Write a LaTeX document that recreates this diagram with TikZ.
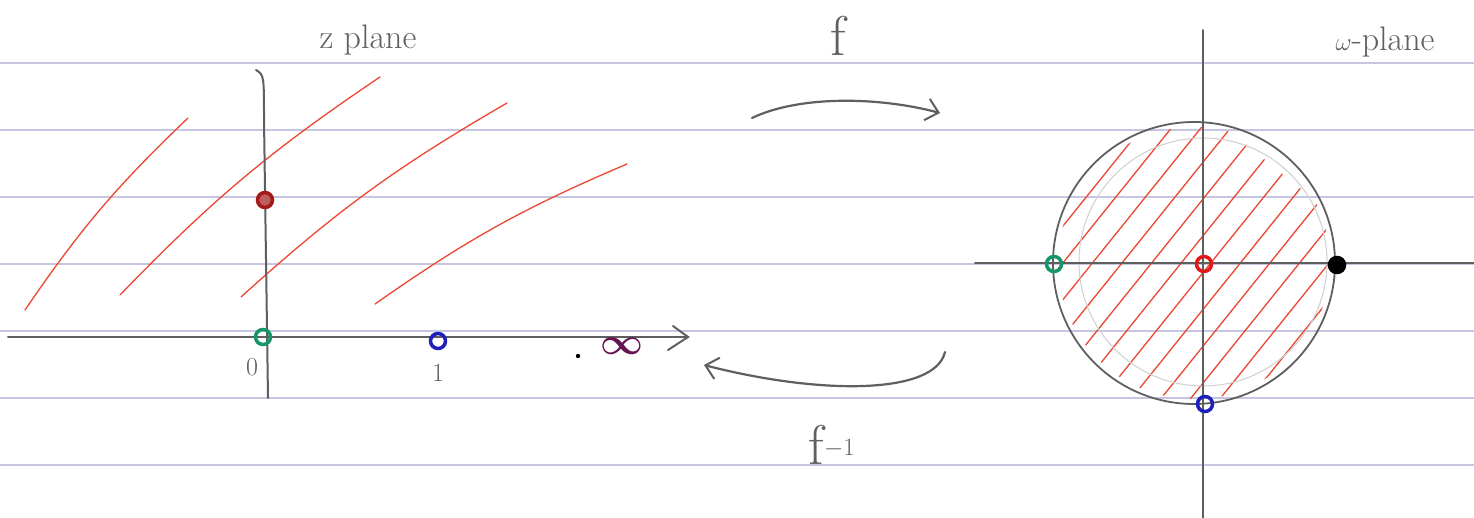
\documentclass[tikz,border=0pt]{standalone}
\usetikzlibrary{arrows.meta,calc}
\definecolor{rule}{RGB}{198,198,224}
\definecolor{pencil}{RGB}{95,95,95}
\definecolor{hatch}{RGB}{238,70,50}
\definecolor{zgreen}{RGB}{20,150,105}
\definecolor{zblue}{RGB}{30,30,185}
\definecolor{zred}{RGB}{165,25,25}
\definecolor{wred}{RGB}{225,25,25}
\definecolor{infcol}{RGB}{100,20,80}
\begin{document}
\begin{tikzpicture}[x=1pt,y=-1pt,
  ruleline/.style={rule,line width=1.2pt},
  axis/.style={pencil,line width=2pt,line cap=round},
  hatchline/.style={hatch,line width=1.3pt,line cap=round},
  pt/.style={circle,draw=#1,line width=3.5pt,minimum size=15pt,inner sep=0pt},
  handtext/.style={text=pencil,inner sep=0pt},
  maparrow/.style={pencil,line width=2.2pt,line cap=round,-{Straight Barb[length=12pt,width=22pt,line width=2pt]}}
]
\useasboundingbox (0,0) rectangle (1474,518);
\fill[white] (0,0) rectangle (1474,518);
% ruled paper
\foreach \yy in {63,130,197,264,331,398,465}
  \draw[ruleline] (0,\yy) -- (1474,\yy);

% ---------- z-plane ----------
\foreach \a/\b/\c/\d in {25/310/188/118, 120/295/380/77, 241/297/507/103, 375/304/627/164}
  \draw[hatchline] (\a,\b) to[bend left=6] (\c,\d);
\coordinate (zxl) at (8,337);
\coordinate (zxr) at (688,337);
\coordinate (zyt) at (256,70);
\coordinate (zyb) at (268,398);
\draw[axis] (zyt) .. controls (264,75) .. (264,120) -- (zyb);
\draw[axis] (zxl) -- (zxr);
\draw[axis] (673,326) -- (zxr) -- (668,350);
\node[pt=zgreen] (z0) at (263,337) {};
\node[pt=zred,fill=zred!70] (zi) at (265,200) {};
\node[pt=zblue] (z1) at (438,341) {};
\node[handtext,font=\fontsize{26}{30}\selectfont] (l0) at (252,367) {0};
\node[handtext,font=\fontsize{26}{30}\selectfont] (l1) at (438,373) {1};
\fill[black] (578,356) circle (2.2pt);
\node[text=infcol,font=\fontsize{24.88}{30}\selectfont\boldmath,inner sep=0pt,scale=1.5] (inf) at (622,346) {$\infty$};
\node[handtext,font=\fontsize{34}{40}\selectfont] (zlabel) at (368,40) {z plane};

% ---------- maps ----------
\coordinate (fs) at (752,118);
\coordinate (fe) at (940,113);
\draw[maparrow] (fs) .. controls (800,95) and (880,97) .. (fe);
\node[handtext,font=\fontsize{56}{60}\selectfont] (flabel) at (838,36) {f};
\coordinate (gs) at (945,352);
\coordinate (ge) at (704,365);
\draw[maparrow] (gs) .. controls (935,395) and (820,395) .. (ge);
\node[handtext,font=\fontsize{56}{60}\selectfont] (glabel) at (832,445) {f$^{-1}$};

% ---------- w-plane ----------
\coordinate (wc) at (1194,263);
\begin{scope}
  \clip (wc) circle (136);
  \foreach \s in {-125,-102,...,135}
    \draw[hatchline] ($(wc)+(0.78*\s,0.63*\s)+(-90,112)$) -- ($(wc)+(0.78*\s,0.63*\s)+(78,-97)$);
\end{scope}
\draw[pencil!30,line width=1pt] (1203,262) circle (124);
\draw[pencil,line width=1.8pt] (wc) circle (141);
\coordinate (wxl) at (975,263);
\coordinate (wxr) at (1474,263);
\coordinate (wyt) at (1203,30);
\coordinate (wyb) at (1203,518);
\draw[axis,line width=1.8pt] (wxl) -- (wxr);
\draw[axis,line width=1.5pt] (wyt) -- (wyb);
\node[pt=zgreen] (wm1) at (1054,264) {};
\node[pt=wred] (w0) at (1204,264) {};
\node[pt=black,fill=black] (w1) at (1337,265) {};
\node[pt=zblue] (wmi) at (1205,404) {};
\node[handtext,font=\fontsize{34}{40}\selectfont] (wlabel) at (1385,42) {$\omega$-plane};
\end{tikzpicture}
\end{document}
